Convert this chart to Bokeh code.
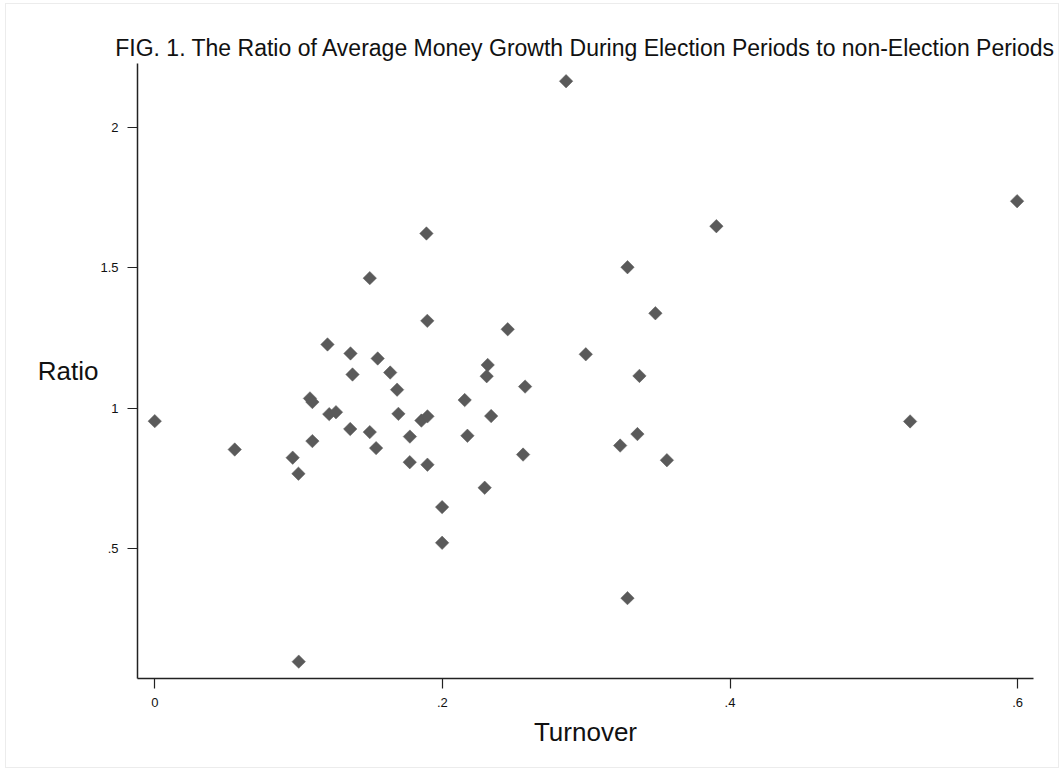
import math
from bokeh.plotting import figure
from bokeh.models import Range1d, FixedTicker, ColumnDataSource
from bokeh.embed import file_html
from bokeh.resources import INLINE

turnover = [0.0, 0.0556, 0.0959, 0.0999, 0.1001, 0.1079, 0.1096, 0.1096, 0.1201, 0.1213,
            0.1260, 0.1361, 0.1375, 0.1359, 0.1495, 0.1495, 0.1539, 0.1550, 0.1637, 0.1685,
            0.1694, 0.1774, 0.1773, 0.1854, 0.1896, 0.1895, 0.1896, 0.1998, 0.1998, 0.2155,
            0.2174, 0.2294, 0.2315, 0.2308, 0.2339, 0.2454, 0.2561, 0.2575, 0.2860, 0.2997,
            0.3236, 0.3287, 0.3287, 0.3356, 0.3370, 0.3481, 0.3561, 0.3905, 0.5252, 0.5996,
            0.1889]
ratio = [0.954, 0.853, 0.824, 0.767, 0.098, 1.035, 1.022, 0.883, 1.227, 0.979,
         0.986, 1.195, 1.120, 0.926, 1.463, 0.915, 0.858, 1.177, 1.127, 1.066,
         0.980, 0.899, 0.808, 0.956, 0.971, 1.311, 0.799, 0.648, 0.521, 1.029,
         0.902, 0.717, 1.154, 1.114, 0.972, 1.281, 0.835, 1.077, 2.164, 1.192,
         0.867, 1.502, 0.324, 0.908, 1.115, 1.338, 0.815, 1.648, 0.953, 1.737,
         1.622]

x_ticks = [0, 0.2, 0.4, 0.6]
x_tick_labels = ["0", ".2", ".4", ".6"]
y_ticks = [0.5, 1, 1.5, 2]
y_tick_labels = [".5", "1", "1.5", "2"]

title_text = "FIG. 1. The Ratio of Average Money Growth During Election Periods to non-Election Periods"
x_label = "Turnover"
y_label = "Ratio"

FONT = "Liberation Sans"

p = figure(width=1054, height=765, output_backend="svg", toolbar_location=None,
           x_range=Range1d(-0.012, 0.611), y_range=Range1d(0.038, 2.227),
           min_border_left=131, min_border_right=27, min_border_top=59, min_border_bottom=91,
           background_fill_color="white", border_fill_color="white")
p.outline_line_color = None
p.xgrid.visible = False
p.ygrid.visible = False
p.styles = {"border": "1px solid #ececec", "margin-left": "5px", "margin-top": "3px"}

p.title.text = title_text
p.title.align = "center"
p.title.text_font = FONT
p.title.text_font_size = "23px"
p.title.text_font_style = "normal"
p.title.text_color = "#111111"
p.title.standoff = 5

src = ColumnDataSource(dict(x=turnover, y=ratio))
p.scatter("x", "y", source=src, marker="square", size=9.5, angle=math.pi / 4,
          fill_color="#5a5a5a", line_color="#5a5a5a", line_width=0.5)

for ax in (p.xaxis[0], p.yaxis[0]):
    ax.axis_line_color = "#222222"
    ax.axis_line_width = 1.5
    ax.major_tick_line_color = "#222222"
    ax.major_tick_line_width = 1.2
    ax.major_tick_out = 10
    ax.major_tick_in = 0
    ax.minor_tick_line_color = None
    ax.major_label_text_font = FONT
    ax.major_label_text_font_size = "13px"
    ax.major_label_text_color = "#111111"
    ax.axis_label_text_font = FONT
    ax.axis_label_text_font_size = "26px"
    ax.axis_label_text_font_style = "normal"
    ax.axis_label_text_color = "#111111"

p.xaxis[0].ticker = FixedTicker(ticks=x_ticks)
p.xaxis[0].major_label_overrides = {t: l for t, l in zip(x_ticks, x_tick_labels)}
p.xaxis[0].major_label_standoff = 9
p.xaxis[0].axis_label = x_label
p.xaxis[0].axis_label_standoff = 7

p.yaxis[0].ticker = FixedTicker(ticks=y_ticks)
p.yaxis[0].major_label_overrides = {t: l for t, l in zip(y_ticks, y_tick_labels)}
p.yaxis[0].major_label_standoff = 9
p.yaxis[0].axis_label = y_label
p.yaxis[0].axis_label_standoff = -1
try:
    p.yaxis[0].axis_label_orientation = "horizontal"
except Exception:
    pass

open("out.html", "w").write(file_html(p, INLINE))
